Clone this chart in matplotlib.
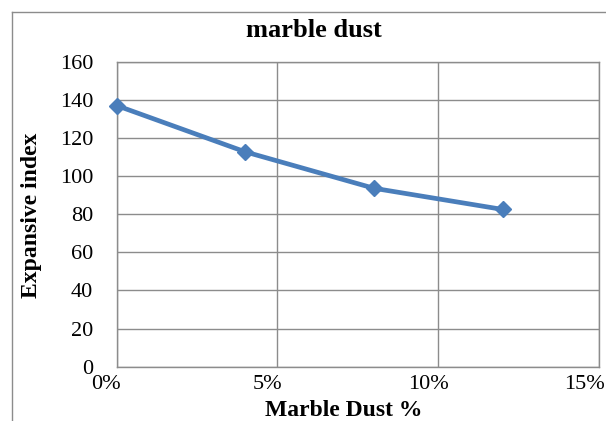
import matplotlib
matplotlib.use("Agg")
import matplotlib.pyplot as plt
from matplotlib.lines import Line2D
from matplotlib.transforms import ScaledTranslation

x_pct = [0, 4, 8, 12]
expansive_index = [137, 112.7, 93.6, 82.5]
x_ticks = [0, 5, 10, 15]
x_tick_labels = ["0%", "5%", "10%", "15%"]
y_ticks = [0, 20, 40, 60, 80, 100, 120, 140, 160]

W, H = 606, 421
fig = plt.figure(figsize=(W / 100, H / 100), dpi=100)
fig.patch.set_facecolor("white")

# outer chart frame
fig.add_artist(Line2D([11.7 / W, 11.7 / W], [0, 1 - 11.7 / H], transform=fig.transFigure,
                      color="#8c8c8c", lw=1.0))
fig.add_artist(Line2D([11.7 / W, 1], [1 - 11.7 / H, 1 - 11.7 / H], transform=fig.transFigure,
                      color="#8c8c8c", lw=1.0))

left, right, top, bottom = 116.7, 599.0, 61.7, 366.7
ax = fig.add_axes([left / W, 1 - bottom / H, (right - left) / W, (bottom - top) / H])

serif = "Liberation Serif"
ax.plot(x_pct, expansive_index, color="#4a7ebb", lw=3.4, marker="D", markersize=8.5,
        markerfacecolor="#4a7ebb", markeredgecolor="#4a7ebb", zorder=3, clip_on=False)

ax.set_xlim(0, 15)
ax.set_ylim(0, 160)
ax.set_xticks(x_ticks)
ax.set_xticklabels(x_tick_labels, fontfamily=serif, fontsize=16)
ax.set_yticks(y_ticks)
ax.set_yticklabels([str(v) for v in y_ticks], fontfamily=serif, fontsize=16)
ax.tick_params(axis="both", length=0, colors="black")
ax.tick_params(axis="y", pad=17)
ax.tick_params(axis="x", pad=6)

offsets = [-11, -10, -10, -15]
for lbl, dx in zip(ax.get_xticklabels(), offsets):
    lbl.set_transform(lbl.get_transform() + ScaledTranslation(dx / 100, 0, fig.dpi_scale_trans))

ax.grid(True, color="#8c8c8c", lw=1.0)
ax.set_axisbelow(True)
for s in ax.spines.values():
    s.set_color("#8c8c8c")
    s.set_linewidth(1.0)

fig.text(314 / W, 1 - 36.7 / H, "marble dust", ha="center", va="baseline",
         fontfamily=serif, fontweight="bold", fontsize=19)
fig.text(344 / W, 1 - 416.5 / H, "Marble Dust %", ha="center", va="baseline",
         fontfamily=serif, fontweight="bold", fontsize=17)
fig.text(31.7 / W, 1 - 215 / H, "Expansive index", ha="center", va="center", rotation=90,
         fontfamily=serif, fontweight="bold", fontsize=17)

fig.savefig("out.png", dpi=100)
